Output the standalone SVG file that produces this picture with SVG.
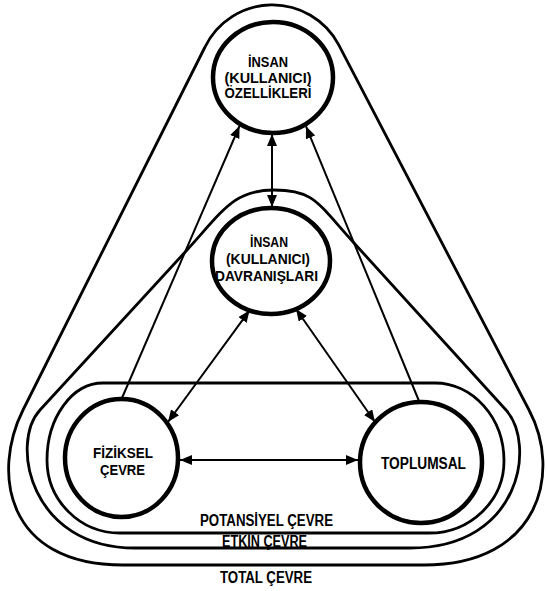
<svg xmlns="http://www.w3.org/2000/svg" width="547" height="591" viewBox="0 0 547 591">
<style>
.ring{fill:none;stroke:#000;stroke-width:2.8;stroke-linejoin:round}
.node{fill:none;stroke:#000;stroke-width:4.5}
.con{fill:none;stroke:#000;stroke-width:2}
.t{font-family:"Liberation Sans",Arial,sans-serif;font-weight:bold;fill:#000;text-anchor:middle}
.s{font-size:14px}
.b{font-size:16px}
.m{font-size:15px}
</style>
<defs>
<marker id="ah" viewBox="0 0 12 10" refX="12" refY="5" markerWidth="12" markerHeight="10" markerUnits="userSpaceOnUse" orient="auto-start-reverse"><path d="M0,0 L12,5 L0,10 z" fill="#000"/></marker>
</defs>
<rect width="547" height="591" fill="#fff"/>
<g id="total-cevre">
<path class="ring" d="M205,47 A75 75 0 0 1 338.6,44.6 L529,410 C562,472 540,565 424,565 L123,565 C5,565 -8,472 23,410 Z"/>
<text class="t b" x="266" y="583" textLength="92" lengthAdjust="spacingAndGlyphs">TOTAL ÇEVRE</text>
</g>
<g id="etkin-cevre">
<path class="ring" d="M187,250 C224,209.4 234,190 274,190 C314,190 317,202.3 354,243 L506,410 C536,443 522,548 410,548 L135,548 C30,548 9.7,443 40,410 Z"/>
</g>
<g id="potansiyel-cevre">
<path class="ring" d="M103,383 L435,383 A69 78 0 0 1 504,461 A75 72 0 0 1 429,533 L120,533 A73 73 0 0 1 47,460 A56 77 0 0 1 103,383 Z"/>
<text class="t b" x="266.5" y="526" textLength="133" lengthAdjust="spacingAndGlyphs">POTANSİYEL ÇEVRE</text>
</g>
<g id="connectors">
<path class="con" d="M272,134 L272,207" marker-start="url(#ah)" marker-end="url(#ah)"/>
<path class="con" d="M122,398 L239.5,126" marker-end="url(#ah)"/>
<path class="con" d="M419,401 L306,126.3" marker-end="url(#ah)"/>
<path class="con" d="M168,422 L249.6,310.3" marker-start="url(#ah)" marker-end="url(#ah)"/>
<path class="con" d="M375,422 L296,309" marker-start="url(#ah)" marker-end="url(#ah)"/>
<path class="con" d="M180,460 L358,460" marker-start="url(#ah)" marker-end="url(#ah)"/>
</g>
<text class="t b" x="264.5" y="547" textLength="85" lengthAdjust="spacingAndGlyphs">ETKİN ÇEVRE</text>
<g id="insan-ozellikleri">
<ellipse class="node" cx="273" cy="77.5" rx="60" ry="55.5"/>
<text class="t s" x="268" y="67" textLength="40" lengthAdjust="spacingAndGlyphs">İNSAN</text>
<text class="t s" x="268" y="82.5" textLength="87" lengthAdjust="spacingAndGlyphs">(KULLANICI)</text>
<text class="t s" x="268" y="98" textLength="87" lengthAdjust="spacingAndGlyphs">ÖZELLİKLERİ</text>
</g>
<g id="insan-davranislari">
<ellipse class="node" cx="271" cy="261" rx="59" ry="53"/>
<text class="t s" x="269" y="247" textLength="38" lengthAdjust="spacingAndGlyphs">İNSAN</text>
<text class="t s" x="268" y="264" textLength="84" lengthAdjust="spacingAndGlyphs">(KULLANICI)</text>
<text class="t s" x="266.5" y="281" textLength="103" lengthAdjust="spacingAndGlyphs">DAVRANIŞLARI</text>
</g>
<g id="fiziksel-cevre">
<ellipse class="node" cx="121.5" cy="458" rx="56.5" ry="59"/>
<text class="t m" x="123" y="457.5" textLength="60" lengthAdjust="spacingAndGlyphs">FİZİKSEL</text>
<text class="t m" x="122.5" y="474.5" textLength="45" lengthAdjust="spacingAndGlyphs">ÇEVRE</text>
</g>
<g id="toplumsal">
<ellipse class="node" cx="421" cy="462.5" rx="61" ry="60.5"/>
<text class="t b" x="423.5" y="469" textLength="85" lengthAdjust="spacingAndGlyphs">TOPLUMSAL</text>
</g>
</svg>
